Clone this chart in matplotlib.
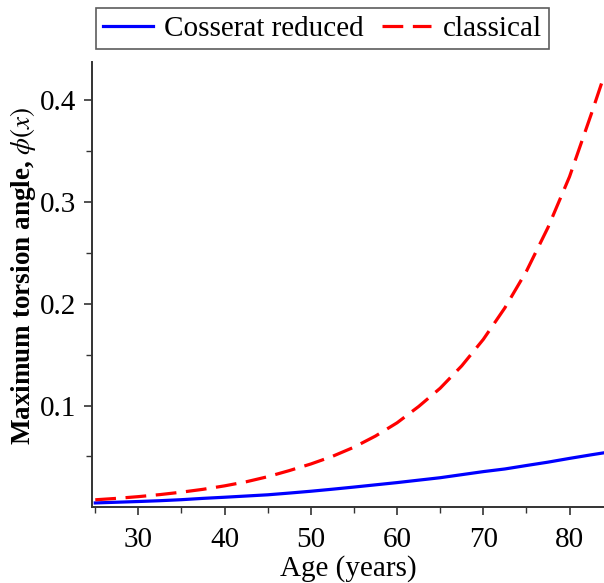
import matplotlib
matplotlib.use('Agg')
import matplotlib.pyplot as plt

# ages (years) and maximum torsion angle
age = [25, 27.5, 30, 32.5, 35, 37.5, 40, 42.5, 45, 47.5, 50, 52.5, 55,
       57.5, 60, 62.5, 65, 67.5, 70, 72.5, 75, 77.5, 80, 82.5, 84]
cosserat = [0.0042, 0.0049, 0.0056, 0.0064, 0.0074, 0.0087, 0.0098, 0.0110,
            0.0122, 0.0139, 0.0157, 0.0177, 0.0198, 0.0220, 0.0242, 0.0266,
            0.0290, 0.0320, 0.0350, 0.0376, 0.0410, 0.0443, 0.0480, 0.0515,
            0.0535]
classical = [0.0073, 0.0087, 0.0104, 0.0124, 0.0148, 0.0176, 0.0210, 0.0250,
             0.0300, 0.0360, 0.0425, 0.0500, 0.0590, 0.0700, 0.0830, 0.0990,
             0.1170, 0.1390, 0.1650, 0.1960, 0.2320, 0.2750, 0.3250, 0.3860,
             0.4240]

xticks = [30, 40, 50, 60, 70, 80]
yticks = [0.1, 0.2, 0.3, 0.4]

plt.rcParams['font.family'] = ['Liberation Serif', 'DejaVu Serif']
plt.rcParams['mathtext.fontset'] = 'stix'

fig = plt.figure(figsize=(6.04, 5.83), dpi=100)
ax = fig.add_axes([0.152, 0.130, 0.848, 0.764])

ax.plot(age, cosserat, color='#0000ff', lw=2.3, label='Cosserat reduced')
ax.plot(age, classical, color='#ff0000', lw=2.3, dashes=(6.5, 3.0), label='classical')

ax.set_xlim(24.6, 84.0)
ax.set_ylim(0, 0.438)
ax.set_xticks(xticks)
ax.set_xticks([25, 35, 45, 55, 65, 75], minor=True)
ax.set_yticks(yticks)
ax.set_yticks([0.05, 0.15, 0.25, 0.35], minor=True)
ax.set_xticklabels([str(t) for t in xticks])
ax.set_yticklabels([str(t) for t in yticks])

for s in ['top', 'right']:
    ax.spines[s].set_visible(False)
for s in ['left', 'bottom']:
    ax.spines[s].set_color('#333333')
    ax.spines[s].set_linewidth(1.4)

ax.tick_params(which='major', direction='out', length=6, width=1.2,
               color='#333333', labelsize=21)
ax.tick_params(axis='x', which='major', pad=8)
ax.tick_params(axis='y', which='major', pad=5)
ax.tick_params(which='minor', direction='out', length=4, width=1.0,
               color='#333333')

ax.set_xlabel('Age (years)', fontsize=21, labelpad=2)
ax.set_ylabel(r'Maximum torsion angle, $\phi(x)$', fontsize=19.5,
              fontweight='bold')
ax.yaxis.set_label_coords(-0.105, 0.52)

leg = fig.legend(loc='upper center', bbox_to_anchor=(0.534, 0.986), ncol=2,
                 fontsize=21, fancybox=False, edgecolor='#333333',
                 handlelength=1.7, handletextpad=0.4, columnspacing=0.6,
                 borderpad=0.25, borderaxespad=0)
leg.get_frame().set_linewidth(1.2)

fig.savefig('out.png', dpi=100)
